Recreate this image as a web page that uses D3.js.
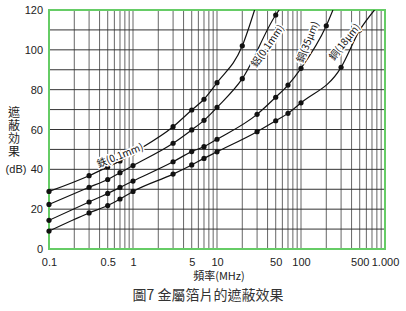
<!DOCTYPE html>
<html>
<head>
<meta charset="utf-8">
<script src="https://cdn.jsdelivr.net/npm/d3@7"></script>
<style>
  body { margin: 0; background: #fff; }
  text { font-family: "Liberation Sans", Arial, "Noto Sans CJK TC", sans-serif; }
  .cjk { font-family: "Noto Sans CJK TC", "Noto Sans CJK JP", sans-serif; }
</style>
</head>
<body>
<div id="chart"></div>
<script>
// values
const ironF = [0.1, 0.3, 0.5, 0.7, 1, 3, 5, 7, 10, 20];
const ironDb = [28.9, 36.8, 41.2, 44.2, 48.2, 61.4, 69.8, 75.2, 83.5, 102];
const alF = [0.1, 0.3, 0.5, 0.7, 1, 3, 5, 7, 10, 20, 50];
const alDb = [22.4, 31.0, 34.9, 38.3, 41.9, 53.1, 59.8, 64.6, 71.1, 85.5, 117.5];
const cu35F = [0.1, 0.3, 0.5, 0.7, 1, 3, 5, 7, 10, 30, 50, 70, 100, 200];
const cu35Db = [14.4, 23.6, 27.9, 30.9, 34.1, 43.8, 48.9, 51.4, 55.1, 67.6, 76.2, 82.3, 90.7, 112.1];
const cu18F = [0.1, 0.3, 0.5, 0.7, 1, 3, 5, 7, 10, 30, 50, 70, 100, 300, 500];
const cu18Db = [9.0, 18.1, 21.8, 25.1, 28.9, 37.6, 42.2, 45.5, 48.8, 58.9, 64.4, 68.1, 73.4, 91.2, 109.9];
// where each curve runs out of the top of the grid (120 dB)
const exitF = [28, 55, 240, 750];

const seriesNames = ["鉄(0.1mm)", "鋁(0.1mm)", "銅(35μm)", "銅(18μm)"];
const xTickVals = [0.1, 0.5, 1, 5, 10, 50, 100, 500, 1000];
const xTickLabels = ["0.1", "0.5", "1", "5", "10", "50", "100", "500", "1.000"];
const yTickVals = [0, 20, 40, 60, 80, 100, 120];

var margin = {top: 10, right: 21, bottom: 62, left: 49},
  width = 406 - margin.left - margin.right,
  height = 249 - margin.top;

var svg = d3.select("#chart")
  .append("svg")
    .attr("width", 406)
    .attr("height", 311)
  .append("g")
    .attr("transform", "translate(" + margin.left + "," + margin.top + ")");

var x = d3.scaleLog()
  .domain([0.1, 1000])
  .range([0, width]);

var y = d3.scaleLinear()
  .domain([0, 120])
  .range([height, 0]);

// log paper grid
var vLines = [];
[0.1, 1, 10, 100].forEach(function(dec) {
  for (var m = 1; m < 10; m++) vLines.push(dec * m);
});
vLines.push(1000);

svg.append("g")
  .selectAll("line")
  .data(vLines)
  .enter()
  .append("line")
    .attr("x1", function(d) { return x(d); })
    .attr("x2", function(d) { return x(d); })
    .attr("y1", 0)
    .attr("y2", height)
    .attr("stroke", "#555")
    .attr("stroke-width", 0.9);

svg.append("g")
  .selectAll("line")
  .data(d3.range(10, 120, 10))
  .enter()
  .append("line")
    .attr("x1", 0)
    .attr("x2", width)
    .attr("y1", function(d) { return y(d); })
    .attr("y2", function(d) { return y(d); })
    .attr("stroke", "#333")
    .attr("stroke-width", 1);

// green frame
svg.append("rect")
  .attr("width", width)
  .attr("height", height)
  .attr("fill", "none")
  .attr("stroke", "#66cc66")
  .attr("stroke-width", 2);

// axes
var xAxis = svg.append("g")
  .attr("transform", "translate(0," + height + ")")
  .call(d3.axisBottom(x)
    .tickValues(xTickVals)
    .tickSize(0)
    .tickPadding(9)
    .tickFormat(function(d, i) { return xTickLabels[i]; }));
xAxis.select(".domain").remove();
xAxis.selectAll("text").style("font-size", "11px").attr("fill", "#222");

var yAxis = svg.append("g")
  .call(d3.axisLeft(y)
    .tickValues(yTickVals)
    .tickSize(0)
    .tickPadding(6));
yAxis.select(".domain").remove();
yAxis.selectAll("text").style("font-size", "11px").attr("fill", "#222");

// curves
var seriesF = [ironF, alF, cu35F, cu18F];
var seriesDb = [ironDb, alDb, cu35Db, cu18Db];

svg.append("clipPath").attr("id", "plotclip")
  .append("rect").attr("width", width).attr("height", height);

var line = d3.line()
  .curve(d3.curveMonotoneX)
  .x(function(d) { return x(d[0]); })
  .y(function(d) { return y(d[1]); });

seriesF.forEach(function(fs, s) {
  var pts = fs.map(function(f, i) { return [f, seriesDb[s][i]]; });
  svg.append("path")
    .datum(pts.concat([[exitF[s], 120]]))
    .attr("clip-path", "url(#plotclip)")
    .attr("fill", "none")
    .attr("stroke", "#111")
    .attr("stroke-width", 1.2)
    .attr("d", line);

  svg.append("g")
    .selectAll("circle")
    .data(pts)
    .enter()
    .append("circle")
      .attr("cx", function(d) { return x(d[0]); })
      .attr("cy", function(d) { return y(d[1]); })
      .attr("r", 2.6)
      .attr("fill", "#111");
});

// curve labels, rotated along the lines
var labelPos = [
  {f: 0.7, db: 47, rot: -22},
  {f: 40, db: 102, rot: -55},
  {f: 120, db: 104, rot: -68},
  {f: 330, db: 104, rot: -52}
];
labelPos.forEach(function(p, i) {
  var lx = x(p.f), ly = y(p.db);
  svg.append("text")
    .attr("class", "cjk")
    .attr("transform", "translate(" + lx + "," + ly + ") rotate(" + p.rot + ")")
    .attr("text-anchor", "middle")
    .attr("dy", "0.35em")
    .style("font-size", "10px")
    .style("paint-order", "stroke")
    .attr("stroke", "#fff")
    .attr("stroke-width", 3)
    .attr("fill", "#111")
    .text(seriesNames[i]);
});

// y title, written top to bottom
svg.append("text")
  .attr("class", "cjk")
  .attr("x", 14 - margin.left)
  .attr("y", 106 - margin.top)
  .style("writing-mode", "vertical-rl")
  .style("text-orientation", "upright")
  .style("letter-spacing", "1px")
  .style("font-size", "12px")
  .attr("fill", "#222")
  .text("遮蔽効果");

svg.append("text")
  .attr("x", 16 - margin.left)
  .attr("y", 173 - margin.top)
  .attr("text-anchor", "middle")
  .style("font-size", "11px")
  .attr("fill", "#222")
  .text("(dB)");

svg.append("text")
  .attr("class", "cjk")
  .attr("x", 219 - margin.left)
  .attr("y", 280 - margin.top)
  .attr("text-anchor", "middle")
  .style("font-size", "11px")
  .attr("fill", "#222")
  .text("頻率(MHz)");

svg.append("text")
  .attr("class", "cjk")
  .attr("x", 208 - margin.left)
  .attr("y", 300 - margin.top)
  .attr("text-anchor", "middle")
  .style("font-size", "14px")
  .attr("fill", "#333")
  .text("圖7 金屬箔片的遮蔽效果");
</script>
</body>
</html>
